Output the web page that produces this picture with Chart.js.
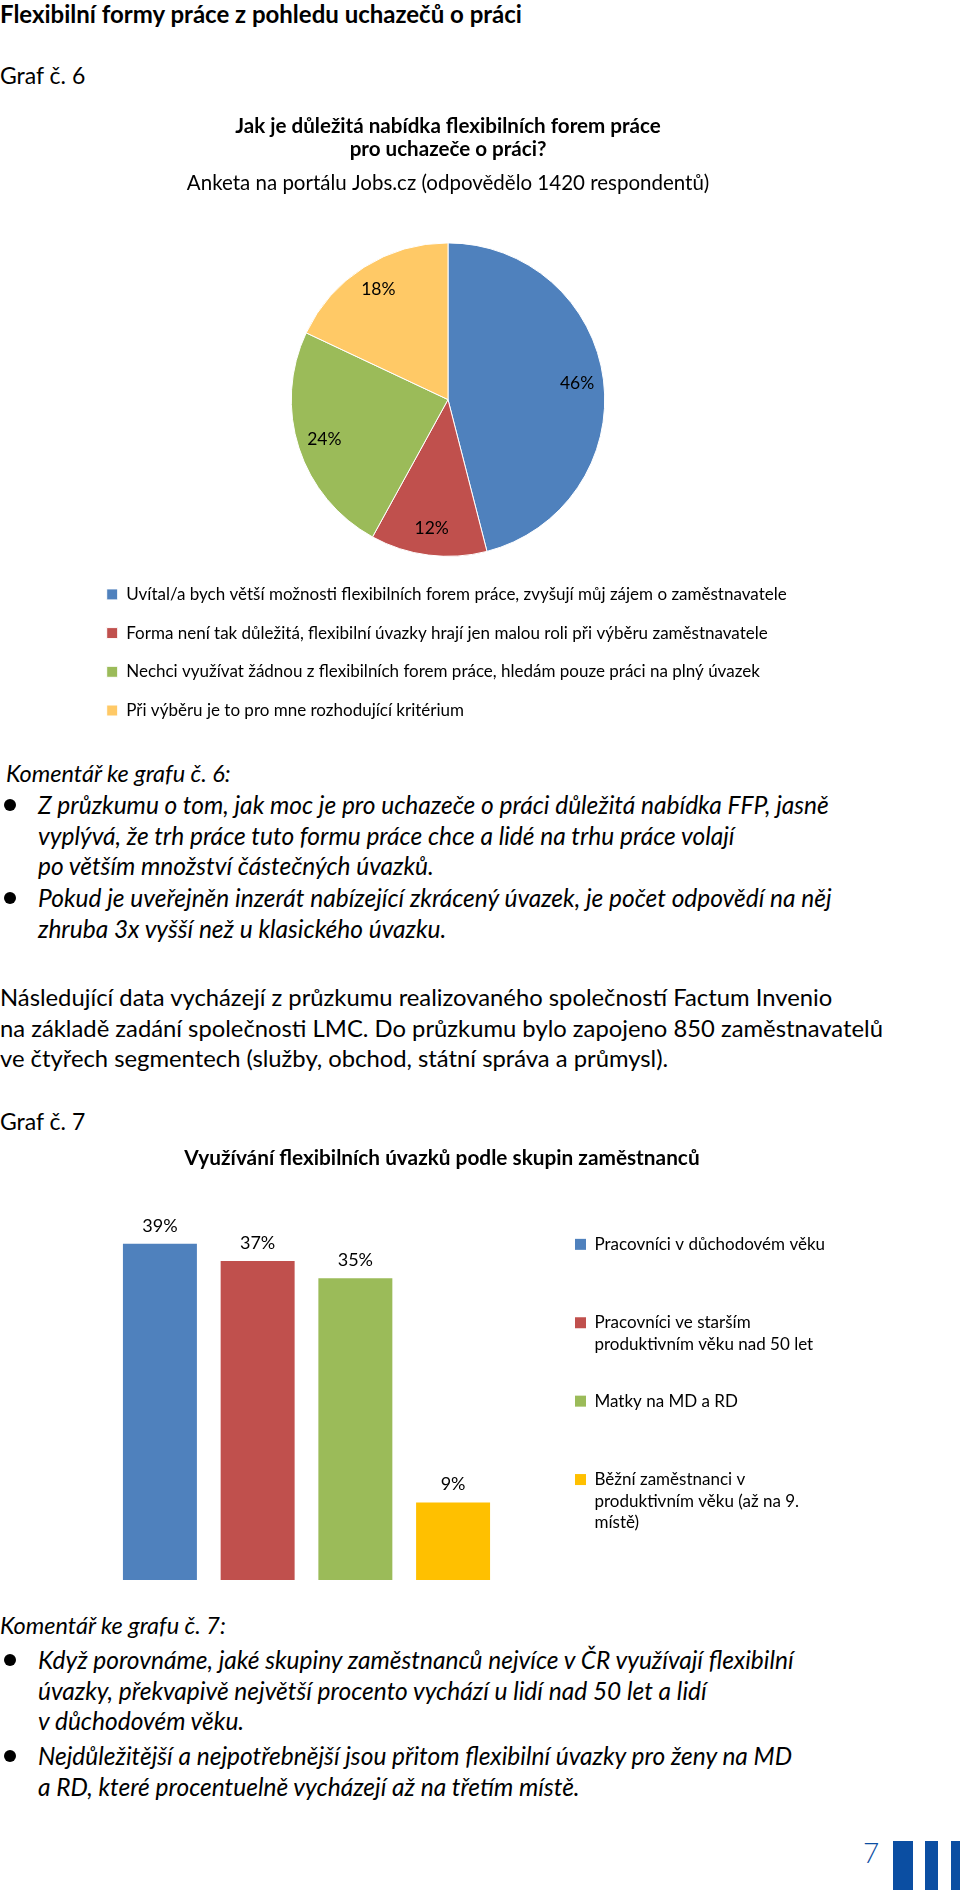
<!DOCTYPE html>
<html lang="cs">
<head>
<meta charset="utf-8">
<title>Flexibilní formy práce z pohledu uchazečů o práci</title>
<script src="https://cdn.jsdelivr.net/npm/chart.js@4.4.1/dist/chart.umd.min.js"></script>
<style>
  html, body { margin: 0; padding: 0; background: #fff; }
  body { width: 960px; height: 1890px; position: relative; overflow: hidden; font-family: Lato, 'Open Sans', sans-serif; color: #000; }
  .t { position: absolute; white-space: nowrap; }
  .h1 { left: 0; top: 1px; font-size: 24px; font-weight: 700; line-height: 26px; }
  .graf { left: 0; font-size: 23px; line-height: 26px; }
  .kom { left: 6px; font-size: 23.5px; font-style: italic; line-height: 26px; }
  .bul { left: 38px; font-size: 24.5px; font-style: italic; line-height: 30.5px; }
  .dot { position: absolute; left: 4px; width: 12px; height: 12px; border-radius: 50%; background: #000; }
  .par { left: 0; font-size: 23.8px; line-height: 30.5px; }
  .pnum { left: 863px; top: 1834px; font-size: 28px; font-weight: 300; color: #0B4EA2; line-height: 36px; }
  .bar { position: absolute; top: 1841px; height: 49px; background: #0B4EA2; }
  canvas { position: absolute; }
</style>
</head>
<body>

<div class="t h1">Flexibilní formy práce z pohledu uchazečů o práci</div>
<div class="t graf" style="top:62px">Graf č. 6</div>

<canvas id="pieChart" width="795" height="619" style="left:85px; top:110px"></canvas>

<div class="t kom" style="top:760px">Komentář ke grafu č. 6:</div>
<span class="dot" style="top:799px"></span>
<div class="t bul" style="top:790px">Z průzkumu o tom, jak moc je pro uchazeče o práci důležitá nabídka FFP, jasně<br>vyplývá, že trh práce tuto formu práce chce a lidé na trhu práce volají<br>po větším množství částečných úvazků.</div>
<span class="dot" style="top:892px"></span>
<div class="t bul" style="top:883px">Pokud je uveřejněn inzerát nabízející zkrácený úvazek, je počet odpovědí na něj<br>zhruba 3x vyšší než u klasického úvazku.</div>

<div class="t par" style="top:982px">Následující data vycházejí z průzkumu realizovaného společností Factum Invenio<br>na základě zadání společnosti LMC. Do průzkumu bylo zapojeno 850 zaměstnavatelů<br>ve čtyřech segmentech (služby, obchod, státní správa a průmysl).</div>

<div class="t graf" style="top:1108px">Graf č. 7</div>

<canvas id="barChart" width="808" height="450" style="left:52px; top:1140px"></canvas>

<div class="t kom" style="top:1612px; left:0">Komentář ke grafu č. 7:</div>
<span class="dot" style="top:1654px"></span>
<div class="t bul" style="top:1645px">Když porovnáme, jaké skupiny zaměstnanců nejvíce v ČR využívají flexibilní<br>úvazky, překvapivě největší procento vychází u lidí nad 50 let a lidí<br>v důchodovém věku.</div>
<span class="dot" style="top:1750px"></span>
<div class="t bul" style="top:1741px">Nejdůležitější a nejpotřebnější jsou přitom flexibilní úvazky pro ženy na MD<br>a RD, které procentuelně vycházejí až na třetím místě.</div>

<div class="t pnum">7</div>
<div class="bar" style="left:893px; width:20px"></div>
<div class="bar" style="left:925px; width:13px"></div>
<div class="bar" style="left:951px; width:9px"></div>

<script>
// ---- Graf 6: pie ----
const pieTitle = ['Jak je důležitá nabídka flexibilních forem práce', 'pro uchazeče o práci?'];
const pieSubtitle = 'Anketa na portálu Jobs.cz (odpovědělo 1420 respondentů)';
const pieLabels = [
  'Uvítal/a bych větší možnosti flexibilních forem práce, zvyšují můj zájem o zaměstnavatele',
  'Forma není tak důležitá, flexibilní úvazky hrají jen malou roli při výběru zaměstnavatele',
  'Nechci využívat žádnou z flexibilních forem práce, hledám pouze práci na plný úvazek',
  'Při výběru je to pro mne rozhodující kritérium'
];
const pieValues = [46, 12, 24, 18];
const pieColors = ['#4F81BD', '#C0504D', '#9BBB59', '#FFC966'];

// ---- Graf 7: bars ----
const barTitle = 'Využívání flexibilních úvazků podle skupin zaměstnanců';
const barSeries = [
  ['Pracovníci v důchodovém věku'],
  ['Pracovníci ve starším', 'produktivním věku nad 50 let'],
  ['Matky na MD a RD'],
  ['Běžní zaměstnanci v', 'produktivním věku (až na 9.', 'místě)']
];
const barValues = [39, 37, 35, 9];
const barColors = ['#4F81BD', '#C0504D', '#9BBB59', '#FFC000'];

Chart.defaults.font.family = 'Lato, "Open Sans", sans-serif';
Chart.defaults.color = '#000';

// percentage labels inside the pie slices
const pieValueLabels = {
  id: 'pieValueLabels',
  afterDatasetsDraw(chart) {
    const ctx = chart.ctx;
    const meta = chart.getDatasetMeta(0);
    ctx.save();
    ctx.font = '17.5px ' + Chart.defaults.font.family;
    ctx.fillStyle = '#000';
    ctx.textAlign = 'center';
    ctx.textBaseline = 'middle';
    meta.data.forEach((arc, i) => {
      const p = arc.getProps(['x', 'y', 'startAngle', 'endAngle', 'outerRadius'], true);
      const mid = (p.startAngle + p.endAngle) / 2;
      const r = p.outerRadius * 0.83;
      ctx.fillText(pieValues[i] + '%', p.x + Math.cos(mid) * r, p.y + Math.sin(mid) * r);
    });
    ctx.restore();
  }
};

// percentage labels above the bars
const barValueLabels = {
  id: 'barValueLabels',
  afterDatasetsDraw(chart) {
    const ctx = chart.ctx;
    ctx.save();
    ctx.font = '18px ' + Chart.defaults.font.family;
    ctx.fillStyle = '#000';
    ctx.textAlign = 'center';
    ctx.textBaseline = 'middle';
    chart.data.datasets.forEach((ds, i) => {
      const bar = chart.getDatasetMeta(i).data[0];
      ctx.fillText(ds.data[0] + '%', bar.x, bar.y - 18);
    });
    ctx.restore();
  }
};

new Chart(document.getElementById('pieChart'), {
  type: 'pie',
  data: {
    labels: pieLabels,
    datasets: [{
      data: pieValues,
      backgroundColor: pieColors,
      borderColor: '#fff',
      borderWidth: 1,
      hoverOffset: 0,
      radius: '95.5%'
    }]
  },
  options: {
    responsive: false,
    animation: false,
    layout: { padding: { top: 5, right: 69, bottom: 0, left: 0 } },
    plugins: {
      title: {
        display: true,
        text: pieTitle,
        color: '#000',
        font: { size: 20.6, weight: 'bold', lineHeight: '23px' },
        padding: { top: 0, bottom: 0 }
      },
      subtitle: {
        display: true,
        text: pieSubtitle,
        color: '#000',
        font: { size: 20.5, weight: 'normal', lineHeight: '22px' },
        padding: { top: 11, bottom: 41 }
      },
      legend: {
        position: 'bottom',
        align: 'start',
        labels: { color: '#000', font: { size: 17 }, boxWidth: 11, boxHeight: 11, padding: 21.7 }
      },
      tooltip: { enabled: false }
    }
  },
  plugins: [pieValueLabels]
});

new Chart(document.getElementById('barChart'), {
  type: 'bar',
  data: {
    labels: [''],
    datasets: barSeries.map((name, i) => ({
      label: name,
      data: [barValues[i]],
      backgroundColor: barColors[i],
      borderWidth: 0
    }))
  },
  options: {
    responsive: false,
    animation: false,
    categoryPercentage: 0.837,
    barPercentage: 0.757,
    layout: { padding: { top: 7, right: 28, bottom: 10, left: 0 } },
    scales: {
      x: { display: false },
      // invisible axis, only keeps the bars off the left edge
      y: {
        min: 0, max: 45,
        ticks: { display: false },
        grid: { display: false },
        border: { display: false },
        afterFit(scale) { scale.width = 21; }
      }
    },
    plugins: {
      title: {
        display: true,
        text: barTitle,
        color: '#000',
        font: { size: 20.8, weight: 'bold', lineHeight: '22px' },
        padding: { top: 0, bottom: 23 }
      },
      legend: {
        position: 'right',
        align: 'center',
        fullSize: false,
        maxWidth: 292,
        labels: {
          color: '#000',
          font: { size: 17, lineHeight: '21.7px' },
          boxWidth: 11,
          boxHeight: 11,
          padding: 35,
          // Excel spaces these entries evenly; pad one-line names to two lines
          generateLabels(chart) {
            const items = Chart.defaults.plugins.legend.labels.generateLabels(chart);
            items.forEach(it => {
              const lines = it.text.slice();
              while (lines.length < 2) lines.push('');
              it.text = lines;
            });
            return items;
          }
        }
      },
      tooltip: { enabled: false }
    }
  },
  plugins: [barValueLabels]
});
</script>
</body>
</html>
